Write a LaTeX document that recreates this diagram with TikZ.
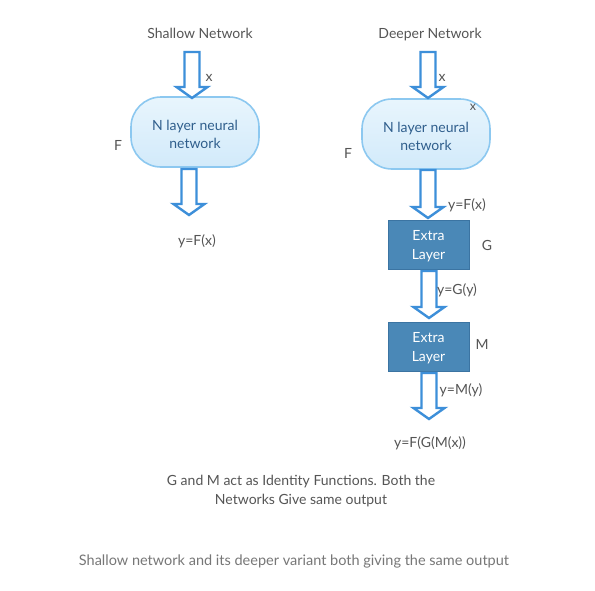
\documentclass[tikz,border=0pt]{standalone}
\usepackage{fontspec}
\setmainfont{Lato}
\usetikzlibrary{calc}
\definecolor{arrowblue}{HTML}{3D8FD9}
\definecolor{nnfillA}{HTML}{E8F5FD}
\definecolor{nnfillB}{HTML}{D2EAFA}
\definecolor{nnborder}{HTML}{8CC8F0}
\definecolor{boxfill}{HTML}{4A88B7}
\definecolor{boxborder}{HTML}{3B74A2}
\definecolor{txtgrey}{HTML}{555555}
\definecolor{captgrey}{HTML}{777777}
\definecolor{nntext}{HTML}{2F5E8C}
\tikzset{
  nnbox/.style={draw=nnborder, line width=1.6pt, rounded corners=30pt, top color=nnfillA, bottom color=nnfillB,
    minimum width=128pt, minimum height=70pt, text=nntext, font=\fontsize{14}{18}\selectfont, align=center},
  nntxt/.style={text=nntext, font=\fontsize{14}{18}\selectfont, align=center, inner sep=0pt},
  extrabox/.style={draw=boxborder, line width=0.8pt, fill=boxfill, minimum width=81pt, minimum height=49pt},
  boxtxt/.style={text=white, font=\fontsize{14}{19}\selectfont, align=center, inner sep=0pt},
  lbl/.style={text=txtgrey, font=\fontsize{14}{16}\selectfont, inner sep=0pt},
  blockarrow/.style={draw=arrowblue, line width=2.4pt, fill=white, line join=miter},
}
% block arrow: #1 = start point (top centre), #2 = tip point
\newcommand{\fatarrow}[2]{%
  \path let \p1=#1, \p2=#2 in
    [blockarrow] (\x1-7.5pt,\y1) -- (\x1+7.5pt,\y1) -- (\x1+7.5pt,\y2+11pt) -- (\x1+15.5pt,\y2+11pt)
    -- (\x2,\y2) -- (\x1-15.5pt,\y2+11pt) -- (\x1-7.5pt,\y2+11pt) -- cycle;}
\begin{document}
\begin{tikzpicture}[x=1pt,y=-1pt]
\useasboundingbox (0,0) rectangle (595,590);
\fill[white] (0,0) rectangle (595,590);

% Shallow network
\node[lbl] (t1) at (200,33) {Shallow Network};
\node[nnbox] (nn1) at (195,132) {};
\node[nntxt] (nn1t) at (195,134) {N layer neural\\network};
\coordinate (a1s) at (192,52);
\coordinate (a1e) at (192,98);
\fatarrow{(a1s)}{(a1e)}
\coordinate (a2s) at (189,169);
\coordinate (a2e) at (189,215);
\fatarrow{(a2s)}{(a2e)}
\node[lbl] (x1) at (209,78) {x};
\node[lbl] (f1) at (118,145) {F};
\node[lbl] (y1) at (197,241) {y=F(x)};

% Deeper network
\node[lbl] (t2) at (430,35) {Deeper Network};
\node[nnbox] (nn2) at (426,134) {};
\node[nntxt] (nn2t) at (426,136) {N layer neural\\network};
\node[extrabox] (g) at (428.5,244.5) {};
\node[boxtxt] (gt) at (428.5,246.5) {Extra\\Layer};
\node[extrabox] (m) at (428.5,346.5) {};
\node[boxtxt] (mt) at (428.5,348.5) {Extra\\Layer};
\coordinate (b1s) at (428,52);
\coordinate (b1e) at (428,98);
\fatarrow{(b1s)}{(b1e)}
\coordinate (b2s) at (428,170);
\coordinate (b2e) at (428,218);
\fatarrow{(b2s)}{(b2e)}
\coordinate (b3s) at (429,271);
\coordinate (b3e) at (429,318);
\fatarrow{(b3s)}{(b3e)}
\coordinate (b4s) at (429,373);
\coordinate (b4e) at (429,419);
\fatarrow{(b4s)}{(b4e)}
\node[lbl] (x2) at (442,78) {x};
\node[lbl, font=\fontsize{12.5}{14}\selectfont] (x3) at (473,107) {x};
\node[lbl] (f2) at (348,153) {F};
\node[lbl] (yf) at (467,205) {y=F(x)};
\node[lbl] (gl) at (487,245) {G};
\node[lbl] (yg) at (457,290) {y=G(y)};
\node[lbl] (ml) at (482,344) {M};
\node[lbl] (ym) at (461,390) {y=M(y)};
\node[lbl] (yout) at (430,443) {y=F(G(M(x))};

% Notes
\node[lbl, align=center, font=\fontsize{14}{19}\selectfont] (note) at (301,491.5)
  {G and M act as Identity Functions. Both the\\Networks Give same output};
\node[lbl, text=captgrey, font=\fontsize{14.5}{16}\selectfont] (cap) at (294,561) {Shallow network and its deeper variant both giving the same output};
\end{tikzpicture}
\end{document}
